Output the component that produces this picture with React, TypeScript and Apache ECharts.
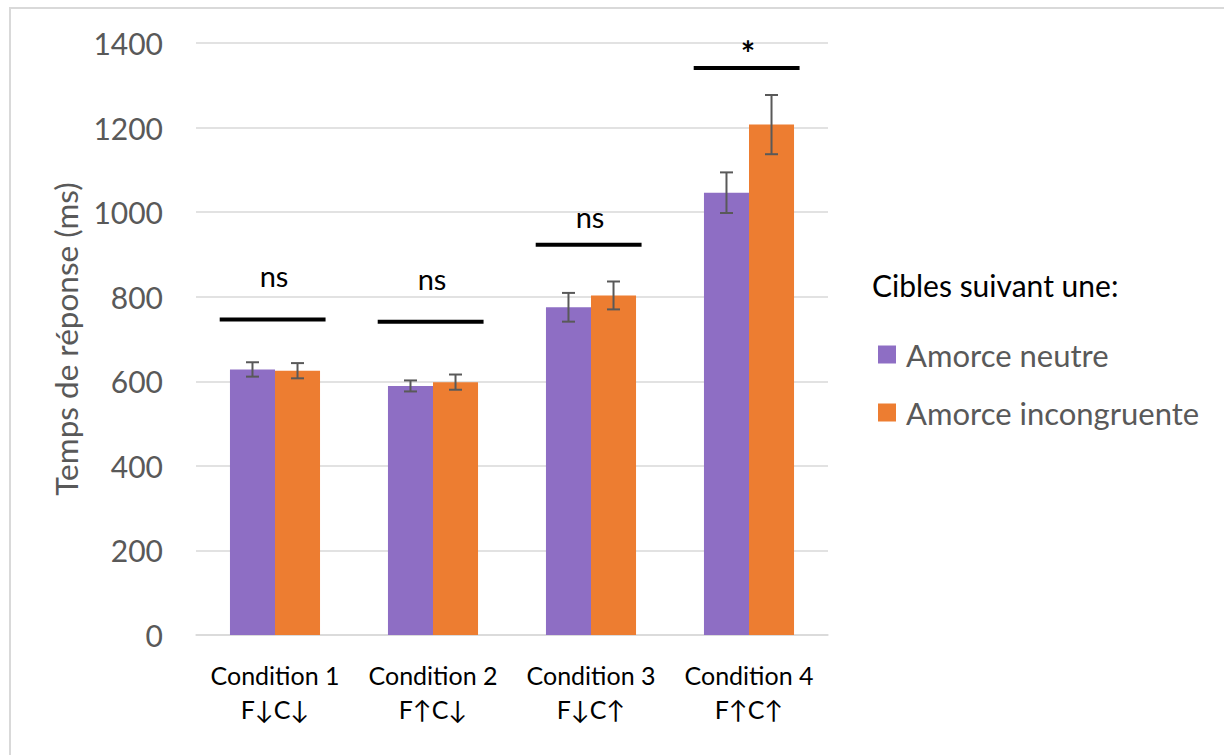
import React, { useEffect, useRef } from "react";
import * as echarts from "echarts";

const categories = ["Condition 1\nF↓C↓", "Condition 2\nF↑C↓", "Condition 3\nF↓C↑", "Condition 4\nF↑C↑"];
const seriesNames = ["Amorce neutre", "Amorce incongruente"];
const neutreValues = [628, 589, 775, 1046];
const neutreErrors = [17, 13, 34, 48];
const incongruenteValues = [625, 598, 803, 1207];
const incongruenteErrors = [18, 18, 33, 70];
const sigLevels = [746, 741, 923, 1341];
const sigLabels = ["ns", "ns", "ns", "*"];
const sigLabelLevels = [849, 842, 990, 1393];
const yTicks = [0, 200, 400, 600, 800, 1000, 1200, 1400];

const PURPLE = "#8E6EC4";
const ORANGE = "#ED7D31";
const FONT = "Lato, 'Noto Sans', sans-serif";
const CAT_GAP = 0.43;

function errorSeries(values: number[], errors: number[], side: number) {
  return {
    type: "custom",
    silent: true,
    z: 5,
    data: values.map((v, i) => [i, v - errors[i], v + errors[i]]),
    renderItem: (params: any, api: any) => {
      const w = api.size([1, 0])[0];
      const barW = (w * (1 - CAT_GAP)) / 2;
      const lo = api.coord([api.value(0), api.value(1)]);
      const hi = api.coord([api.value(0), api.value(2)]);
      const x = lo[0] + (side * barW) / 2;
      const cap = 6.5;
      const style = { stroke: "#595959", lineWidth: 2 };
      return {
        type: "group",
        children: [
          { type: "line", shape: { x1: x, y1: lo[1], x2: x, y2: hi[1] }, style },
          { type: "line", shape: { x1: x - cap, y1: lo[1], x2: x + cap, y2: lo[1] }, style },
          { type: "line", shape: { x1: x - cap, y1: hi[1], x2: x + cap, y2: hi[1] }, style },
        ],
      };
    },
  };
}

export default function App() {
  const ref = useRef<HTMLDivElement>(null);
  useEffect(() => {
    const chart = echarts.init(ref.current!, undefined, { renderer: "svg" });
    chart.setOption({
      animation: false,
      backgroundColor: "#ffffff",
      grid: { left: 196, right: 396, top: 43, bottom: 120 },
      legend: {
        orient: "vertical",
        left: 873,
        top: 334,
        itemWidth: 18,
        itemHeight: 18,
        itemGap: 27,
        icon: "rect",
        data: seriesNames,
        textStyle: { fontFamily: FONT, fontSize: 31, color: "#595959", padding: [0, 0, 0, 5] },
      },
      xAxis: {
        type: "category",
        data: categories,
        axisTick: { show: false },
        axisLine: { lineStyle: { color: "#d9d9d9", width: 1.5 } },
        axisLabel: {
          interval: 0,
          margin: 23,
          color: "#000000",
          fontFamily: FONT,
          fontSize: 25,
          lineHeight: 34,
        },
      },
      yAxis: {
        type: "value",
        min: 0,
        max: 1400,
        interval: 200,
        name: "Temps de réponse (ms)",
        nameLocation: "middle",
        nameGap: 112,
        nameTextStyle: { fontFamily: FONT, fontSize: 31.5, color: "#595959" },
        axisLabel: {
          margin: 33,
          color: "#595959",
          fontFamily: FONT,
          fontSize: 30,
          formatter: (v: number) => (yTicks.includes(v) ? String(v) : ""),
        },
        splitLine: { lineStyle: { color: "#d9d9d9", width: 1.5 } },
      },
      graphic: [
        {
          type: "rect",
          shape: { x: 10, y: 8, width: 1400, height: 900 },
          style: { fill: "none", stroke: "#d9d9d9", lineWidth: 2 },
          silent: true,
        },
        {
          type: "text",
          left: 872,
          top: 270,
          style: { text: "Cibles suivant une:", fontFamily: FONT, fontSize: 30, fill: "#000000" },
        },
      ],
      series: [
        {
          name: seriesNames[0],
          type: "bar",
          data: neutreValues,
          barGap: "0%",
          barCategoryGap: "43%",
          itemStyle: { color: PURPLE },
        },
        {
          name: seriesNames[1],
          type: "bar",
          data: incongruenteValues,
          barGap: "0%",
          barCategoryGap: "43%",
          itemStyle: { color: ORANGE },
        },
        errorSeries(neutreValues, neutreErrors, -1),
        errorSeries(incongruenteValues, incongruenteErrors, 1),
        {
          type: "custom",
          silent: true,
          z: 6,
          data: sigLevels.map((v, i) => [i, v, sigLabelLevels[i]]),
          renderItem: (params: any, api: any) => {
            const w = api.size([1, 0])[0];
            const c = api.coord([api.value(0), api.value(1)]);
            const t = api.coord([api.value(0), api.value(2)]);
            const label = sigLabels[params.dataIndex];
            const isStar = label === "*";
            return {
              type: "group",
              children: [
                {
                  type: "line",
                  shape: { x1: c[0] - 0.35 * w, y1: c[1], x2: c[0] + 0.32 * w, y2: c[1] },
                  style: { stroke: "#000000", lineWidth: 4 },
                },
                {
                  type: "text",
                  x: c[0] - 1,
                  y: t[1] + (isStar ? 7 : 0),
                  style: {
                    text: label,
                    fontFamily: FONT,
                    fontSize: isStar ? 34 : 29,
                    fontWeight: isStar ? "bold" : "normal",
                    fill: "#000000",
                    align: "center",
                    verticalAlign: "middle",
                  },
                },
              ],
            };
          },
        },
      ],
    });
    return () => chart.dispose();
  }, []);
  return (
    <div
      ref={ref}
      style={{ position: "fixed", left: 0, top: 0, width: 1224, height: 755, background: "#fff" }}
    />
  );
}
